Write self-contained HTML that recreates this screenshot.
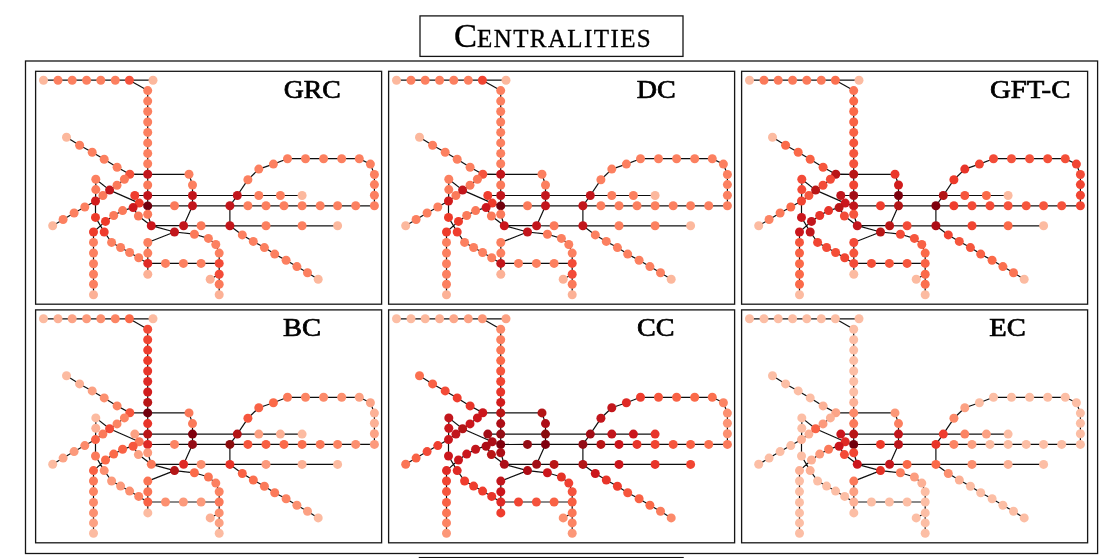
<!DOCTYPE html>
<html><head><meta charset="utf-8"><style>
html,body{margin:0;padding:0;background:#fff;}
body{width:1110px;height:558px;overflow:hidden;position:relative;}
svg{position:absolute;left:0;top:0;}
.lab{font-family:"Liberation Serif",serif;font-weight:normal;font-size:24.6px;fill:#000;stroke:#000;stroke-width:0.7px;filter:grayscale(1);}
.t1{font-family:"Liberation Serif",serif;font-size:34.5px;}
.t2{font-family:"Liberation Serif",serif;font-size:25px;}
</style></head><body>
<svg width="1110" height="558" viewBox="0 0 1110 558">
<defs><filter id="soft" x="-5%" y="-5%" width="110%" height="110%"><feGaussianBlur stdDeviation="0.3"/></filter></defs>
<rect x="420" y="15.9" width="263" height="40.5" fill="none" stroke="#151515" stroke-width="1.3"/>
<text x="454" y="46.9" fill="#000" stroke="#000" stroke-width="0.35" style="filter:grayscale(1)"><tspan class="t1">C</tspan><tspan class="t2" letter-spacing="1.4">ENTRALITIES</tspan></text>
<rect x="25.5" y="61" width="1072.1" height="492.5" fill="none" stroke="#151515" stroke-width="1.3"/>
<rect x="419.5" y="557.7" width="263.5" height="10" fill="none" stroke="#111" stroke-width="1.5"/>
<g transform="translate(0,0)" filter="url(#soft)">
<rect x="35.6" y="71.3" width="346" height="232.9" fill="none" stroke="#151515" stroke-width="1.3"/>
<path d="M43.5 80.2L58.0 80.2M58.0 80.2L72.2 80.2M72.2 80.2L86.6 80.2M86.6 80.2L100.8 80.2M100.8 80.2L115.3 80.2M115.3 80.2L129.4 80.2M129.4 80.2L153.0 80.2M129.4 80.2L147.7 90.6M147.7 90.6L147.7 101.1M147.7 101.1L147.7 111.5M147.7 111.5L147.7 122.0M147.7 122.0L147.7 132.4M147.7 132.4L147.7 142.9M147.7 142.9L147.7 153.4M147.7 153.4L147.7 163.8M147.7 163.8L147.7 174.3M147.7 174.3L147.7 185.0M147.7 185.0L147.7 195.5M147.7 195.5L147.7 205.9M147.7 205.9L147.7 214.2M147.7 214.2L151.3 225.7M151.3 225.7L174.5 232.0M174.5 232.0L147.8 242.5M147.8 242.5L147.8 253.1M147.8 253.1L147.8 263.4M147.8 263.4L147.8 274.3M66.5 137.2L79.6 145.3M79.6 145.3L92.2 152.3M92.2 152.3L104.2 159.3M104.2 159.3L117.1 167.3M117.1 167.3L129.8 174.2M129.8 174.2L147.7 174.3M147.7 174.3L189.0 174.3M189.0 174.3L192.5 185.0M192.5 185.0L192.5 195.5M192.5 195.5L192.5 205.8M192.5 205.8L183.6 225.7M134.8 195.5L147.7 195.5M147.7 195.5L192.5 195.5M192.5 195.5L237.3 195.5M237.3 195.5L258.8 195.5M258.8 195.5L280.4 195.5M280.4 195.5L302.1 195.5M139.2 203.1L147.7 205.9M147.7 205.9L174.5 205.8M174.5 205.8L192.5 205.8M192.5 205.8L229.9 205.8M229.9 205.8L247.9 205.8M247.9 205.8L266.0 205.8M266.0 205.8L284.0 205.8M284.0 205.8L302.1 205.8M302.1 205.8L320.2 205.8M320.2 205.8L337.6 205.8M337.6 205.8L355.7 205.8M355.7 205.8L374.4 205.8M237.3 195.5L247.9 179.7M247.9 179.7L258.8 169.1M258.8 169.1L273.4 164.1M273.4 164.1L287.5 158.7M287.5 158.7L305.5 158.7M305.5 158.7L323.6 158.7M323.6 158.7L341.7 158.7M341.7 158.7L359.3 158.7M359.3 158.7L370.4 164.1M370.4 164.1L374.4 174.5M374.4 174.5L374.4 184.6M374.4 184.6L374.4 195.2M374.4 195.2L374.4 205.8M237.3 195.5L229.9 205.8M229.9 205.8L229.9 225.8M151.3 225.7L183.6 225.7M183.6 225.7L201.1 225.8M201.1 225.8L229.9 225.8M229.9 225.8L266.0 225.8M266.0 225.8L302.1 225.8M302.1 225.8L337.6 225.8M229.9 225.8L242.3 234.9M242.3 234.9L253.3 241.4M253.3 241.4L264.4 247.6M264.4 247.6L274.7 254.1M274.7 254.1L286.1 260.2M286.1 260.2L296.9 266.6M296.9 266.6L307.5 272.7M307.5 272.7L318.2 279.3M174.5 232.0L194.4 234.2M194.4 234.2L208.4 238.4M208.4 238.4L215.8 244.5M215.8 244.5L219.2 253.1M219.2 253.1L219.2 263.4M219.2 263.4L219.2 274.3M219.2 274.3L219.2 284.3M219.2 284.3L219.2 294.7M219.2 274.3L210.2 279.3M147.8 263.4L165.5 263.4M165.5 263.4L183.4 263.4M183.4 263.4L201.1 263.4M201.1 263.4L219.2 263.4M52.7 225.7L63.1 219.5M63.1 219.5L74.1 213.0M74.1 213.0L84.8 207.0M84.8 207.0L95.5 201.0M95.5 201.0L102.9 195.5M102.9 195.5L109.6 190.1M109.6 190.1L117.0 185.3M117.0 185.3L124.4 179.3M124.4 179.3L129.8 174.2M95.8 179.3L95.8 189.6M95.8 189.6L95.5 201.0M95.5 201.0L95.5 217.4M95.5 217.4L104.2 232.0M95.8 179.3L109.6 190.1M109.6 190.1L139.2 203.1M93.5 232.0L105.5 221.4M105.5 221.4L113.7 215.5M113.7 215.5L122.6 210.6M122.6 210.6L133.1 207.6M133.1 207.6L139.2 203.1M104.2 232.0L111.6 242.4M111.6 242.4L120.6 247.5M120.6 247.5L129.6 252.5M129.6 252.5L138.7 257.8M138.7 257.8L147.8 263.4M93.5 232.0L93.5 242.4M93.5 242.4L93.5 253.0M93.5 253.0L93.5 263.8M93.5 263.8L93.5 274.3M93.5 274.3L93.5 284.3M93.5 284.3L93.5 294.7M133.1 207.6L138.4 216.0M138.4 216.0L151.3 225.7" stroke="#101010" stroke-width="1.2" fill="none"/>
<circle cx="43.5" cy="80.2" r="4.5" fill="#fcb89d"/>
<circle cx="58.0" cy="80.2" r="4.5" fill="#fc8060"/>
<circle cx="72.2" cy="80.2" r="4.5" fill="#fc8060"/>
<circle cx="86.6" cy="80.2" r="4.5" fill="#fc8060"/>
<circle cx="100.8" cy="80.2" r="4.5" fill="#fc8060"/>
<circle cx="115.3" cy="80.2" r="4.5" fill="#fc8060"/>
<circle cx="129.4" cy="80.2" r="4.5" fill="#f5533c"/>
<circle cx="153.0" cy="80.2" r="4.5" fill="#fcb89d"/>
<circle cx="147.7" cy="90.6" r="4.5" fill="#fc8060"/>
<circle cx="147.7" cy="101.1" r="4.5" fill="#fc8060"/>
<circle cx="147.7" cy="111.5" r="4.5" fill="#fc8060"/>
<circle cx="147.7" cy="122.0" r="4.5" fill="#fc8060"/>
<circle cx="147.7" cy="132.4" r="4.5" fill="#fc8060"/>
<circle cx="147.7" cy="142.9" r="4.5" fill="#fc8060"/>
<circle cx="147.7" cy="153.4" r="4.5" fill="#fc8060"/>
<circle cx="147.7" cy="163.8" r="4.5" fill="#fc8060"/>
<circle cx="147.7" cy="174.3" r="4.5" fill="#c2161b"/>
<circle cx="147.7" cy="185.0" r="4.5" fill="#fb7a5a"/>
<circle cx="147.7" cy="195.5" r="4.5" fill="#c2161b"/>
<circle cx="147.7" cy="205.9" r="4.5" fill="#71020e"/>
<circle cx="147.7" cy="214.2" r="4.5" fill="#fb7a5a"/>
<circle cx="151.3" cy="225.7" r="4.5" fill="#cb181d"/>
<circle cx="174.5" cy="232.0" r="4.5" fill="#c2161b"/>
<circle cx="147.8" cy="242.5" r="4.5" fill="#fc8060"/>
<circle cx="147.8" cy="253.1" r="4.5" fill="#fc8060"/>
<circle cx="147.8" cy="263.4" r="4.5" fill="#df2c25"/>
<circle cx="147.8" cy="274.3" r="4.5" fill="#fcb196"/>
<circle cx="66.5" cy="137.2" r="4.5" fill="#fcb89d"/>
<circle cx="79.6" cy="145.3" r="4.5" fill="#fc8060"/>
<circle cx="92.2" cy="152.3" r="4.5" fill="#fc8060"/>
<circle cx="104.2" cy="159.3" r="4.5" fill="#fc8060"/>
<circle cx="117.1" cy="167.3" r="4.5" fill="#fc8060"/>
<circle cx="129.8" cy="174.2" r="4.5" fill="#f5533c"/>
<circle cx="189.0" cy="174.3" r="4.5" fill="#fc8060"/>
<circle cx="192.5" cy="185.0" r="4.5" fill="#fc8060"/>
<circle cx="192.5" cy="195.5" r="4.5" fill="#c2161b"/>
<circle cx="192.5" cy="205.8" r="4.5" fill="#c2161b"/>
<circle cx="183.6" cy="225.7" r="4.5" fill="#c2161b"/>
<circle cx="134.8" cy="195.5" r="4.5" fill="#ef3d2d"/>
<circle cx="237.3" cy="195.5" r="4.5" fill="#c2161b"/>
<circle cx="258.8" cy="195.5" r="4.5" fill="#fc8060"/>
<circle cx="280.4" cy="195.5" r="4.5" fill="#fc8060"/>
<circle cx="302.1" cy="195.5" r="4.5" fill="#fcb89d"/>
<circle cx="139.2" cy="203.1" r="4.5" fill="#ee3a2b"/>
<circle cx="174.5" cy="205.8" r="4.5" fill="#fb7a5a"/>
<circle cx="229.9" cy="205.8" r="4.5" fill="#c2161b"/>
<circle cx="247.9" cy="205.8" r="4.5" fill="#fc8060"/>
<circle cx="266.0" cy="205.8" r="4.5" fill="#fc8060"/>
<circle cx="284.0" cy="205.8" r="4.5" fill="#fc8060"/>
<circle cx="302.1" cy="205.8" r="4.5" fill="#fc8060"/>
<circle cx="320.2" cy="205.8" r="4.5" fill="#fc8060"/>
<circle cx="337.6" cy="205.8" r="4.5" fill="#fc8060"/>
<circle cx="355.7" cy="205.8" r="4.5" fill="#fc8060"/>
<circle cx="374.4" cy="205.8" r="4.5" fill="#fc8060"/>
<circle cx="247.9" cy="179.7" r="4.5" fill="#fc8060"/>
<circle cx="258.8" cy="169.1" r="4.5" fill="#fc8060"/>
<circle cx="273.4" cy="164.1" r="4.5" fill="#fc8060"/>
<circle cx="287.5" cy="158.7" r="4.5" fill="#fc8060"/>
<circle cx="305.5" cy="158.7" r="4.5" fill="#fc8060"/>
<circle cx="323.6" cy="158.7" r="4.5" fill="#fc8060"/>
<circle cx="341.7" cy="158.7" r="4.5" fill="#fc8060"/>
<circle cx="359.3" cy="158.7" r="4.5" fill="#fc8060"/>
<circle cx="370.4" cy="164.1" r="4.5" fill="#fc8060"/>
<circle cx="374.4" cy="174.5" r="4.5" fill="#fc8060"/>
<circle cx="374.4" cy="184.6" r="4.5" fill="#fc8060"/>
<circle cx="374.4" cy="195.2" r="4.5" fill="#fc8060"/>
<circle cx="201.1" cy="225.8" r="4.5" fill="#fb7a5a"/>
<circle cx="229.9" cy="225.8" r="4.5" fill="#c2161b"/>
<circle cx="266.0" cy="225.8" r="4.5" fill="#fc8060"/>
<circle cx="302.1" cy="225.8" r="4.5" fill="#fc8060"/>
<circle cx="337.6" cy="225.8" r="4.5" fill="#fcb89d"/>
<circle cx="242.3" cy="234.9" r="4.5" fill="#fc8060"/>
<circle cx="253.3" cy="241.4" r="4.5" fill="#fc8060"/>
<circle cx="264.4" cy="247.6" r="4.5" fill="#fc8060"/>
<circle cx="274.7" cy="254.1" r="4.5" fill="#fc8060"/>
<circle cx="286.1" cy="260.2" r="4.5" fill="#fc8060"/>
<circle cx="296.9" cy="266.6" r="4.5" fill="#fc8060"/>
<circle cx="307.5" cy="272.7" r="4.5" fill="#fc8060"/>
<circle cx="318.2" cy="279.3" r="4.5" fill="#fcb89d"/>
<circle cx="194.4" cy="234.2" r="4.5" fill="#fb7a5a"/>
<circle cx="208.4" cy="238.4" r="4.5" fill="#fc8060"/>
<circle cx="215.8" cy="244.5" r="4.5" fill="#fc8060"/>
<circle cx="219.2" cy="253.1" r="4.5" fill="#fc8060"/>
<circle cx="219.2" cy="263.4" r="4.5" fill="#f34c37"/>
<circle cx="219.2" cy="274.3" r="4.5" fill="#f34c37"/>
<circle cx="219.2" cy="284.3" r="4.5" fill="#fb7a5a"/>
<circle cx="219.2" cy="294.7" r="4.5" fill="#fcb196"/>
<circle cx="210.2" cy="279.3" r="4.5" fill="#fcb196"/>
<circle cx="165.5" cy="263.4" r="4.5" fill="#fc8060"/>
<circle cx="183.4" cy="263.4" r="4.5" fill="#fc8060"/>
<circle cx="201.1" cy="263.4" r="4.5" fill="#fc8060"/>
<circle cx="52.7" cy="225.7" r="4.5" fill="#fcb89d"/>
<circle cx="63.1" cy="219.5" r="4.5" fill="#fc8060"/>
<circle cx="74.1" cy="213.0" r="4.5" fill="#fc8060"/>
<circle cx="84.8" cy="207.0" r="4.5" fill="#fc8060"/>
<circle cx="95.8" cy="179.3" r="4.5" fill="#fc8060"/>
<circle cx="95.8" cy="189.6" r="4.5" fill="#fb7a5a"/>
<circle cx="95.5" cy="201.0" r="4.5" fill="#d11e1f"/>
<circle cx="95.5" cy="217.4" r="4.5" fill="#ee3a2b"/>
<circle cx="102.9" cy="195.5" r="4.5" fill="#fb7a5a"/>
<circle cx="109.6" cy="190.1" r="4.5" fill="#c2161b"/>
<circle cx="117.0" cy="185.3" r="4.5" fill="#fb7a5a"/>
<circle cx="124.4" cy="179.3" r="4.5" fill="#fb7a5a"/>
<circle cx="105.5" cy="221.4" r="4.5" fill="#ee3a2b"/>
<circle cx="104.2" cy="232.0" r="4.5" fill="#ef3d2d"/>
<circle cx="93.5" cy="232.0" r="4.5" fill="#ee3a2b"/>
<circle cx="113.7" cy="215.5" r="4.5" fill="#fb7a5a"/>
<circle cx="122.6" cy="210.6" r="4.5" fill="#fb7a5a"/>
<circle cx="133.1" cy="207.6" r="4.5" fill="#cb181d"/>
<circle cx="111.6" cy="242.4" r="4.5" fill="#fc8060"/>
<circle cx="120.6" cy="247.5" r="4.5" fill="#fc8060"/>
<circle cx="129.6" cy="252.5" r="4.5" fill="#fc8060"/>
<circle cx="138.7" cy="257.8" r="4.5" fill="#fc8060"/>
<circle cx="93.5" cy="242.4" r="4.5" fill="#fc8060"/>
<circle cx="93.5" cy="253.0" r="4.5" fill="#fc8060"/>
<circle cx="93.5" cy="263.8" r="4.5" fill="#fc8060"/>
<circle cx="93.5" cy="274.3" r="4.5" fill="#fc8060"/>
<circle cx="93.5" cy="284.3" r="4.5" fill="#fc8060"/>
<circle cx="93.5" cy="294.7" r="4.5" fill="#fcb196"/>
<circle cx="138.4" cy="216.0" r="4.5" fill="#fb7a5a"/>
<text x="283.8" y="97.8" class="lab" textLength="57" lengthAdjust="spacingAndGlyphs">GRC</text>
</g><g transform="translate(353,0)" filter="url(#soft)">
<rect x="35.6" y="71.3" width="346" height="232.9" fill="none" stroke="#151515" stroke-width="1.3"/>
<path d="M43.5 80.2L58.0 80.2M58.0 80.2L72.2 80.2M72.2 80.2L86.6 80.2M86.6 80.2L100.8 80.2M100.8 80.2L115.3 80.2M115.3 80.2L129.4 80.2M129.4 80.2L153.0 80.2M129.4 80.2L147.7 90.6M147.7 90.6L147.7 101.1M147.7 101.1L147.7 111.5M147.7 111.5L147.7 122.0M147.7 122.0L147.7 132.4M147.7 132.4L147.7 142.9M147.7 142.9L147.7 153.4M147.7 153.4L147.7 163.8M147.7 163.8L147.7 174.3M147.7 174.3L147.7 185.0M147.7 185.0L147.7 195.5M147.7 195.5L147.7 205.9M147.7 205.9L147.7 214.2M147.7 214.2L151.3 225.7M151.3 225.7L174.5 232.0M174.5 232.0L147.8 242.5M147.8 242.5L147.8 253.1M147.8 253.1L147.8 263.4M147.8 263.4L147.8 274.3M66.5 137.2L79.6 145.3M79.6 145.3L92.2 152.3M92.2 152.3L104.2 159.3M104.2 159.3L117.1 167.3M117.1 167.3L129.8 174.2M129.8 174.2L147.7 174.3M147.7 174.3L189.0 174.3M189.0 174.3L192.5 185.0M192.5 185.0L192.5 195.5M192.5 195.5L192.5 205.8M192.5 205.8L183.6 225.7M134.8 195.5L147.7 195.5M147.7 195.5L192.5 195.5M192.5 195.5L237.3 195.5M237.3 195.5L258.8 195.5M258.8 195.5L280.4 195.5M280.4 195.5L302.1 195.5M139.2 203.1L147.7 205.9M147.7 205.9L174.5 205.8M174.5 205.8L192.5 205.8M192.5 205.8L229.9 205.8M229.9 205.8L247.9 205.8M247.9 205.8L266.0 205.8M266.0 205.8L284.0 205.8M284.0 205.8L302.1 205.8M302.1 205.8L320.2 205.8M320.2 205.8L337.6 205.8M337.6 205.8L355.7 205.8M355.7 205.8L374.4 205.8M237.3 195.5L247.9 179.7M247.9 179.7L258.8 169.1M258.8 169.1L273.4 164.1M273.4 164.1L287.5 158.7M287.5 158.7L305.5 158.7M305.5 158.7L323.6 158.7M323.6 158.7L341.7 158.7M341.7 158.7L359.3 158.7M359.3 158.7L370.4 164.1M370.4 164.1L374.4 174.5M374.4 174.5L374.4 184.6M374.4 184.6L374.4 195.2M374.4 195.2L374.4 205.8M237.3 195.5L229.9 205.8M229.9 205.8L229.9 225.8M151.3 225.7L183.6 225.7M183.6 225.7L201.1 225.8M201.1 225.8L229.9 225.8M229.9 225.8L266.0 225.8M266.0 225.8L302.1 225.8M302.1 225.8L337.6 225.8M229.9 225.8L242.3 234.9M242.3 234.9L253.3 241.4M253.3 241.4L264.4 247.6M264.4 247.6L274.7 254.1M274.7 254.1L286.1 260.2M286.1 260.2L296.9 266.6M296.9 266.6L307.5 272.7M307.5 272.7L318.2 279.3M174.5 232.0L194.4 234.2M194.4 234.2L208.4 238.4M208.4 238.4L215.8 244.5M215.8 244.5L219.2 253.1M219.2 253.1L219.2 263.4M219.2 263.4L219.2 274.3M219.2 274.3L219.2 284.3M219.2 284.3L219.2 294.7M219.2 274.3L210.2 279.3M147.8 263.4L165.5 263.4M165.5 263.4L183.4 263.4M183.4 263.4L201.1 263.4M201.1 263.4L219.2 263.4M52.7 225.7L63.1 219.5M63.1 219.5L74.1 213.0M74.1 213.0L84.8 207.0M84.8 207.0L95.5 201.0M95.5 201.0L102.9 195.5M102.9 195.5L109.6 190.1M109.6 190.1L117.0 185.3M117.0 185.3L124.4 179.3M124.4 179.3L129.8 174.2M95.8 179.3L95.8 189.6M95.8 189.6L95.5 201.0M95.5 201.0L95.5 217.4M95.5 217.4L104.2 232.0M95.8 179.3L109.6 190.1M109.6 190.1L139.2 203.1M93.5 232.0L105.5 221.4M105.5 221.4L113.7 215.5M113.7 215.5L122.6 210.6M122.6 210.6L133.1 207.6M133.1 207.6L139.2 203.1M104.2 232.0L111.6 242.4M111.6 242.4L120.6 247.5M120.6 247.5L129.6 252.5M129.6 252.5L138.7 257.8M138.7 257.8L147.8 263.4M93.5 232.0L93.5 242.4M93.5 242.4L93.5 253.0M93.5 253.0L93.5 263.8M93.5 263.8L93.5 274.3M93.5 274.3L93.5 284.3M93.5 284.3L93.5 294.7M133.1 207.6L138.4 216.0M138.4 216.0L151.3 225.7" stroke="#101010" stroke-width="1.2" fill="none"/>
<circle cx="43.5" cy="80.2" r="4.5" fill="#fcb89d"/>
<circle cx="58.0" cy="80.2" r="4.5" fill="#fc8060"/>
<circle cx="72.2" cy="80.2" r="4.5" fill="#fc8060"/>
<circle cx="86.6" cy="80.2" r="4.5" fill="#fc8060"/>
<circle cx="100.8" cy="80.2" r="4.5" fill="#fc8060"/>
<circle cx="115.3" cy="80.2" r="4.5" fill="#fc8060"/>
<circle cx="129.4" cy="80.2" r="4.5" fill="#f14432"/>
<circle cx="153.0" cy="80.2" r="4.5" fill="#fcb89d"/>
<circle cx="147.7" cy="90.6" r="4.5" fill="#fc8060"/>
<circle cx="147.7" cy="101.1" r="4.5" fill="#fc8060"/>
<circle cx="147.7" cy="111.5" r="4.5" fill="#fc8060"/>
<circle cx="147.7" cy="122.0" r="4.5" fill="#fc8060"/>
<circle cx="147.7" cy="132.4" r="4.5" fill="#fc8060"/>
<circle cx="147.7" cy="142.9" r="4.5" fill="#fc8060"/>
<circle cx="147.7" cy="153.4" r="4.5" fill="#fc8060"/>
<circle cx="147.7" cy="163.8" r="4.5" fill="#fc8060"/>
<circle cx="147.7" cy="174.3" r="4.5" fill="#c2161b"/>
<circle cx="147.7" cy="185.0" r="4.5" fill="#fb7a5a"/>
<circle cx="147.7" cy="195.5" r="4.5" fill="#c2161b"/>
<circle cx="147.7" cy="205.9" r="4.5" fill="#71020e"/>
<circle cx="147.7" cy="214.2" r="4.5" fill="#fb7a5a"/>
<circle cx="151.3" cy="225.7" r="4.5" fill="#cb181d"/>
<circle cx="174.5" cy="232.0" r="4.5" fill="#c2161b"/>
<circle cx="147.8" cy="242.5" r="4.5" fill="#fc8060"/>
<circle cx="147.8" cy="253.1" r="4.5" fill="#fc8060"/>
<circle cx="147.8" cy="263.4" r="4.5" fill="#c2161b"/>
<circle cx="147.8" cy="274.3" r="4.5" fill="#fcb196"/>
<circle cx="66.5" cy="137.2" r="4.5" fill="#fcb89d"/>
<circle cx="79.6" cy="145.3" r="4.5" fill="#fc8060"/>
<circle cx="92.2" cy="152.3" r="4.5" fill="#fc8060"/>
<circle cx="104.2" cy="159.3" r="4.5" fill="#fc8060"/>
<circle cx="117.1" cy="167.3" r="4.5" fill="#fc8060"/>
<circle cx="129.8" cy="174.2" r="4.5" fill="#f5533c"/>
<circle cx="189.0" cy="174.3" r="4.5" fill="#fc8060"/>
<circle cx="192.5" cy="185.0" r="4.5" fill="#fc8060"/>
<circle cx="192.5" cy="195.5" r="4.5" fill="#c2161b"/>
<circle cx="192.5" cy="205.8" r="4.5" fill="#c2161b"/>
<circle cx="183.6" cy="225.7" r="4.5" fill="#c2161b"/>
<circle cx="134.8" cy="195.5" r="4.5" fill="#ef3d2d"/>
<circle cx="237.3" cy="195.5" r="4.5" fill="#c2161b"/>
<circle cx="258.8" cy="195.5" r="4.5" fill="#fc8060"/>
<circle cx="280.4" cy="195.5" r="4.5" fill="#fc8060"/>
<circle cx="302.1" cy="195.5" r="4.5" fill="#fcb89d"/>
<circle cx="139.2" cy="203.1" r="4.5" fill="#ee3a2b"/>
<circle cx="174.5" cy="205.8" r="4.5" fill="#fb7a5a"/>
<circle cx="229.9" cy="205.8" r="4.5" fill="#c2161b"/>
<circle cx="247.9" cy="205.8" r="4.5" fill="#fc8060"/>
<circle cx="266.0" cy="205.8" r="4.5" fill="#fc8060"/>
<circle cx="284.0" cy="205.8" r="4.5" fill="#fc8060"/>
<circle cx="302.1" cy="205.8" r="4.5" fill="#fc8060"/>
<circle cx="320.2" cy="205.8" r="4.5" fill="#fc8060"/>
<circle cx="337.6" cy="205.8" r="4.5" fill="#fc8060"/>
<circle cx="355.7" cy="205.8" r="4.5" fill="#fc8060"/>
<circle cx="374.4" cy="205.8" r="4.5" fill="#fc8060"/>
<circle cx="247.9" cy="179.7" r="4.5" fill="#fc8060"/>
<circle cx="258.8" cy="169.1" r="4.5" fill="#fc8060"/>
<circle cx="273.4" cy="164.1" r="4.5" fill="#fc8060"/>
<circle cx="287.5" cy="158.7" r="4.5" fill="#fc8060"/>
<circle cx="305.5" cy="158.7" r="4.5" fill="#fc8060"/>
<circle cx="323.6" cy="158.7" r="4.5" fill="#fc8060"/>
<circle cx="341.7" cy="158.7" r="4.5" fill="#fc8060"/>
<circle cx="359.3" cy="158.7" r="4.5" fill="#fc8060"/>
<circle cx="370.4" cy="164.1" r="4.5" fill="#fc8060"/>
<circle cx="374.4" cy="174.5" r="4.5" fill="#fc8060"/>
<circle cx="374.4" cy="184.6" r="4.5" fill="#fc8060"/>
<circle cx="374.4" cy="195.2" r="4.5" fill="#fc8060"/>
<circle cx="201.1" cy="225.8" r="4.5" fill="#fb7a5a"/>
<circle cx="229.9" cy="225.8" r="4.5" fill="#c2161b"/>
<circle cx="266.0" cy="225.8" r="4.5" fill="#fc8060"/>
<circle cx="302.1" cy="225.8" r="4.5" fill="#fc8060"/>
<circle cx="337.6" cy="225.8" r="4.5" fill="#fcb89d"/>
<circle cx="242.3" cy="234.9" r="4.5" fill="#fc8060"/>
<circle cx="253.3" cy="241.4" r="4.5" fill="#fc8060"/>
<circle cx="264.4" cy="247.6" r="4.5" fill="#fc8060"/>
<circle cx="274.7" cy="254.1" r="4.5" fill="#fc8060"/>
<circle cx="286.1" cy="260.2" r="4.5" fill="#fc8060"/>
<circle cx="296.9" cy="266.6" r="4.5" fill="#fc8060"/>
<circle cx="307.5" cy="272.7" r="4.5" fill="#fc8060"/>
<circle cx="318.2" cy="279.3" r="4.5" fill="#fcb89d"/>
<circle cx="194.4" cy="234.2" r="4.5" fill="#fb7a5a"/>
<circle cx="208.4" cy="238.4" r="4.5" fill="#fc8060"/>
<circle cx="215.8" cy="244.5" r="4.5" fill="#fc8060"/>
<circle cx="219.2" cy="253.1" r="4.5" fill="#fc8060"/>
<circle cx="219.2" cy="263.4" r="4.5" fill="#f34c37"/>
<circle cx="219.2" cy="274.3" r="4.5" fill="#f34c37"/>
<circle cx="219.2" cy="284.3" r="4.5" fill="#fb7a5a"/>
<circle cx="219.2" cy="294.7" r="4.5" fill="#fcb196"/>
<circle cx="210.2" cy="279.3" r="4.5" fill="#fcb196"/>
<circle cx="165.5" cy="263.4" r="4.5" fill="#fc8060"/>
<circle cx="183.4" cy="263.4" r="4.5" fill="#fc8060"/>
<circle cx="201.1" cy="263.4" r="4.5" fill="#fc8060"/>
<circle cx="52.7" cy="225.7" r="4.5" fill="#fcb89d"/>
<circle cx="63.1" cy="219.5" r="4.5" fill="#fc8060"/>
<circle cx="74.1" cy="213.0" r="4.5" fill="#fc8060"/>
<circle cx="84.8" cy="207.0" r="4.5" fill="#fc8060"/>
<circle cx="95.8" cy="179.3" r="4.5" fill="#fc8060"/>
<circle cx="95.8" cy="189.6" r="4.5" fill="#fb7a5a"/>
<circle cx="95.5" cy="201.0" r="4.5" fill="#d11e1f"/>
<circle cx="95.5" cy="217.4" r="4.5" fill="#ee3a2b"/>
<circle cx="102.9" cy="195.5" r="4.5" fill="#fb7a5a"/>
<circle cx="109.6" cy="190.1" r="4.5" fill="#c2161b"/>
<circle cx="117.0" cy="185.3" r="4.5" fill="#fb7a5a"/>
<circle cx="124.4" cy="179.3" r="4.5" fill="#fb7a5a"/>
<circle cx="105.5" cy="221.4" r="4.5" fill="#ee3a2b"/>
<circle cx="104.2" cy="232.0" r="4.5" fill="#ef3d2d"/>
<circle cx="93.5" cy="232.0" r="4.5" fill="#ee3a2b"/>
<circle cx="113.7" cy="215.5" r="4.5" fill="#fb7a5a"/>
<circle cx="122.6" cy="210.6" r="4.5" fill="#fb7a5a"/>
<circle cx="133.1" cy="207.6" r="4.5" fill="#cb181d"/>
<circle cx="111.6" cy="242.4" r="4.5" fill="#fc8060"/>
<circle cx="120.6" cy="247.5" r="4.5" fill="#fc8060"/>
<circle cx="129.6" cy="252.5" r="4.5" fill="#fc8060"/>
<circle cx="138.7" cy="257.8" r="4.5" fill="#fc8060"/>
<circle cx="93.5" cy="242.4" r="4.5" fill="#fc8060"/>
<circle cx="93.5" cy="253.0" r="4.5" fill="#fc8060"/>
<circle cx="93.5" cy="263.8" r="4.5" fill="#fc8060"/>
<circle cx="93.5" cy="274.3" r="4.5" fill="#fc8060"/>
<circle cx="93.5" cy="284.3" r="4.5" fill="#fc8060"/>
<circle cx="93.5" cy="294.7" r="4.5" fill="#fcb196"/>
<circle cx="138.4" cy="216.0" r="4.5" fill="#fb7a5a"/>
<text x="283.8" y="97.8" class="lab" textLength="39" lengthAdjust="spacingAndGlyphs">DC</text>
</g><g transform="translate(706,0)" filter="url(#soft)">
<rect x="35.6" y="71.3" width="346" height="232.9" fill="none" stroke="#151515" stroke-width="1.3"/>
<path d="M43.5 80.2L58.0 80.2M58.0 80.2L72.2 80.2M72.2 80.2L86.6 80.2M86.6 80.2L100.8 80.2M100.8 80.2L115.3 80.2M115.3 80.2L129.4 80.2M129.4 80.2L153.0 80.2M129.4 80.2L147.7 90.6M147.7 90.6L147.7 101.1M147.7 101.1L147.7 111.5M147.7 111.5L147.7 122.0M147.7 122.0L147.7 132.4M147.7 132.4L147.7 142.9M147.7 142.9L147.7 153.4M147.7 153.4L147.7 163.8M147.7 163.8L147.7 174.3M147.7 174.3L147.7 185.0M147.7 185.0L147.7 195.5M147.7 195.5L147.7 205.9M147.7 205.9L147.7 214.2M147.7 214.2L151.3 225.7M151.3 225.7L174.5 232.0M174.5 232.0L147.8 242.5M147.8 242.5L147.8 253.1M147.8 253.1L147.8 263.4M147.8 263.4L147.8 274.3M66.5 137.2L79.6 145.3M79.6 145.3L92.2 152.3M92.2 152.3L104.2 159.3M104.2 159.3L117.1 167.3M117.1 167.3L129.8 174.2M129.8 174.2L147.7 174.3M147.7 174.3L189.0 174.3M189.0 174.3L192.5 185.0M192.5 185.0L192.5 195.5M192.5 195.5L192.5 205.8M192.5 205.8L183.6 225.7M134.8 195.5L147.7 195.5M147.7 195.5L192.5 195.5M192.5 195.5L237.3 195.5M237.3 195.5L258.8 195.5M258.8 195.5L280.4 195.5M280.4 195.5L302.1 195.5M139.2 203.1L147.7 205.9M147.7 205.9L174.5 205.8M174.5 205.8L192.5 205.8M192.5 205.8L229.9 205.8M229.9 205.8L247.9 205.8M247.9 205.8L266.0 205.8M266.0 205.8L284.0 205.8M284.0 205.8L302.1 205.8M302.1 205.8L320.2 205.8M320.2 205.8L337.6 205.8M337.6 205.8L355.7 205.8M355.7 205.8L374.4 205.8M237.3 195.5L247.9 179.7M247.9 179.7L258.8 169.1M258.8 169.1L273.4 164.1M273.4 164.1L287.5 158.7M287.5 158.7L305.5 158.7M305.5 158.7L323.6 158.7M323.6 158.7L341.7 158.7M341.7 158.7L359.3 158.7M359.3 158.7L370.4 164.1M370.4 164.1L374.4 174.5M374.4 174.5L374.4 184.6M374.4 184.6L374.4 195.2M374.4 195.2L374.4 205.8M237.3 195.5L229.9 205.8M229.9 205.8L229.9 225.8M151.3 225.7L183.6 225.7M183.6 225.7L201.1 225.8M201.1 225.8L229.9 225.8M229.9 225.8L266.0 225.8M266.0 225.8L302.1 225.8M302.1 225.8L337.6 225.8M229.9 225.8L242.3 234.9M242.3 234.9L253.3 241.4M253.3 241.4L264.4 247.6M264.4 247.6L274.7 254.1M274.7 254.1L286.1 260.2M286.1 260.2L296.9 266.6M296.9 266.6L307.5 272.7M307.5 272.7L318.2 279.3M174.5 232.0L194.4 234.2M194.4 234.2L208.4 238.4M208.4 238.4L215.8 244.5M215.8 244.5L219.2 253.1M219.2 253.1L219.2 263.4M219.2 263.4L219.2 274.3M219.2 274.3L219.2 284.3M219.2 284.3L219.2 294.7M219.2 274.3L210.2 279.3M147.8 263.4L165.5 263.4M165.5 263.4L183.4 263.4M183.4 263.4L201.1 263.4M201.1 263.4L219.2 263.4M52.7 225.7L63.1 219.5M63.1 219.5L74.1 213.0M74.1 213.0L84.8 207.0M84.8 207.0L95.5 201.0M95.5 201.0L102.9 195.5M102.9 195.5L109.6 190.1M109.6 190.1L117.0 185.3M117.0 185.3L124.4 179.3M124.4 179.3L129.8 174.2M95.8 179.3L95.8 189.6M95.8 189.6L95.5 201.0M95.5 201.0L95.5 217.4M95.5 217.4L104.2 232.0M95.8 179.3L109.6 190.1M109.6 190.1L139.2 203.1M93.5 232.0L105.5 221.4M105.5 221.4L113.7 215.5M113.7 215.5L122.6 210.6M122.6 210.6L133.1 207.6M133.1 207.6L139.2 203.1M104.2 232.0L111.6 242.4M111.6 242.4L120.6 247.5M120.6 247.5L129.6 252.5M129.6 252.5L138.7 257.8M138.7 257.8L147.8 263.4M93.5 232.0L93.5 242.4M93.5 242.4L93.5 253.0M93.5 253.0L93.5 263.8M93.5 263.8L93.5 274.3M93.5 274.3L93.5 284.3M93.5 284.3L93.5 294.7M133.1 207.6L138.4 216.0M138.4 216.0L151.3 225.7" stroke="#101010" stroke-width="1.2" fill="none"/>
<circle cx="43.5" cy="80.2" r="4.5" fill="#fcbba1"/>
<circle cx="58.0" cy="80.2" r="4.5" fill="#fb7a5a"/>
<circle cx="72.2" cy="80.2" r="4.5" fill="#fb7a5a"/>
<circle cx="86.6" cy="80.2" r="4.5" fill="#fb7a5a"/>
<circle cx="100.8" cy="80.2" r="4.5" fill="#fb7a5a"/>
<circle cx="115.3" cy="80.2" r="4.5" fill="#fb7a5a"/>
<circle cx="129.4" cy="80.2" r="4.5" fill="#fb7050"/>
<circle cx="153.0" cy="80.2" r="4.5" fill="#fcbba1"/>
<circle cx="147.7" cy="90.6" r="4.5" fill="#fb7454"/>
<circle cx="147.7" cy="101.1" r="4.5" fill="#fb6a4a"/>
<circle cx="147.7" cy="111.5" r="4.5" fill="#fb6a4a"/>
<circle cx="147.7" cy="122.0" r="4.5" fill="#f96245"/>
<circle cx="147.7" cy="132.4" r="4.5" fill="#f96245"/>
<circle cx="147.7" cy="142.9" r="4.5" fill="#f6573e"/>
<circle cx="147.7" cy="153.4" r="4.5" fill="#f6573e"/>
<circle cx="147.7" cy="163.8" r="4.5" fill="#f5533c"/>
<circle cx="147.7" cy="174.3" r="4.5" fill="#b91419"/>
<circle cx="147.7" cy="185.0" r="4.5" fill="#f14432"/>
<circle cx="147.7" cy="195.5" r="4.5" fill="#a30e15"/>
<circle cx="147.7" cy="205.9" r="4.5" fill="#c2161b"/>
<circle cx="147.7" cy="214.2" r="4.5" fill="#f6573e"/>
<circle cx="151.3" cy="225.7" r="4.5" fill="#c2161b"/>
<circle cx="174.5" cy="232.0" r="4.5" fill="#b91419"/>
<circle cx="147.8" cy="242.5" r="4.5" fill="#f34c37"/>
<circle cx="147.8" cy="253.1" r="4.5" fill="#f6573e"/>
<circle cx="147.8" cy="263.4" r="4.5" fill="#f34c37"/>
<circle cx="147.8" cy="274.3" r="4.5" fill="#fcbba1"/>
<circle cx="66.5" cy="137.2" r="4.5" fill="#fcbba1"/>
<circle cx="79.6" cy="145.3" r="4.5" fill="#fb6a4a"/>
<circle cx="92.2" cy="152.3" r="4.5" fill="#fb6a4a"/>
<circle cx="104.2" cy="159.3" r="4.5" fill="#f96245"/>
<circle cx="117.1" cy="167.3" r="4.5" fill="#f6573e"/>
<circle cx="129.8" cy="174.2" r="4.5" fill="#b91419"/>
<circle cx="189.0" cy="174.3" r="4.5" fill="#eb372a"/>
<circle cx="192.5" cy="185.0" r="4.5" fill="#d11e1f"/>
<circle cx="192.5" cy="195.5" r="4.5" fill="#7b0510"/>
<circle cx="192.5" cy="205.8" r="4.5" fill="#b31218"/>
<circle cx="183.6" cy="225.7" r="4.5" fill="#b91419"/>
<circle cx="134.8" cy="195.5" r="4.5" fill="#c2161b"/>
<circle cx="237.3" cy="195.5" r="4.5" fill="#b31218"/>
<circle cx="258.8" cy="195.5" r="4.5" fill="#f6573e"/>
<circle cx="280.4" cy="195.5" r="4.5" fill="#fb6a4a"/>
<circle cx="302.1" cy="195.5" r="4.5" fill="#fcbba1"/>
<circle cx="139.2" cy="203.1" r="4.5" fill="#cb181d"/>
<circle cx="174.5" cy="205.8" r="4.5" fill="#ef3d2d"/>
<circle cx="229.9" cy="205.8" r="4.5" fill="#800610"/>
<circle cx="247.9" cy="205.8" r="4.5" fill="#ef3d2d"/>
<circle cx="266.0" cy="205.8" r="4.5" fill="#f34c37"/>
<circle cx="284.0" cy="205.8" r="4.5" fill="#f34c37"/>
<circle cx="302.1" cy="205.8" r="4.5" fill="#f5533c"/>
<circle cx="320.2" cy="205.8" r="4.5" fill="#f6573e"/>
<circle cx="337.6" cy="205.8" r="4.5" fill="#f6573e"/>
<circle cx="355.7" cy="205.8" r="4.5" fill="#f5533c"/>
<circle cx="374.4" cy="205.8" r="4.5" fill="#f14432"/>
<circle cx="247.9" cy="179.7" r="4.5" fill="#ee3a2b"/>
<circle cx="258.8" cy="169.1" r="4.5" fill="#e83429"/>
<circle cx="273.4" cy="164.1" r="4.5" fill="#f14432"/>
<circle cx="287.5" cy="158.7" r="4.5" fill="#f34c37"/>
<circle cx="305.5" cy="158.7" r="4.5" fill="#f5533c"/>
<circle cx="323.6" cy="158.7" r="4.5" fill="#f5533c"/>
<circle cx="341.7" cy="158.7" r="4.5" fill="#f45039"/>
<circle cx="359.3" cy="158.7" r="4.5" fill="#f45039"/>
<circle cx="370.4" cy="164.1" r="4.5" fill="#f14432"/>
<circle cx="374.4" cy="174.5" r="4.5" fill="#f34c37"/>
<circle cx="374.4" cy="184.6" r="4.5" fill="#f14432"/>
<circle cx="374.4" cy="195.2" r="4.5" fill="#f14432"/>
<circle cx="201.1" cy="225.8" r="4.5" fill="#f34c37"/>
<circle cx="229.9" cy="225.8" r="4.5" fill="#ad1117"/>
<circle cx="266.0" cy="225.8" r="4.5" fill="#f14432"/>
<circle cx="302.1" cy="225.8" r="4.5" fill="#fb6a4a"/>
<circle cx="337.6" cy="225.8" r="4.5" fill="#fcbba1"/>
<circle cx="242.3" cy="234.9" r="4.5" fill="#f14432"/>
<circle cx="253.3" cy="241.4" r="4.5" fill="#f6573e"/>
<circle cx="264.4" cy="247.6" r="4.5" fill="#f6573e"/>
<circle cx="274.7" cy="254.1" r="4.5" fill="#f96245"/>
<circle cx="286.1" cy="260.2" r="4.5" fill="#fb6a4a"/>
<circle cx="296.9" cy="266.6" r="4.5" fill="#fb7050"/>
<circle cx="307.5" cy="272.7" r="4.5" fill="#fb7454"/>
<circle cx="318.2" cy="279.3" r="4.5" fill="#fcbba1"/>
<circle cx="194.4" cy="234.2" r="4.5" fill="#f34c37"/>
<circle cx="208.4" cy="238.4" r="4.5" fill="#f6573e"/>
<circle cx="215.8" cy="244.5" r="4.5" fill="#f96245"/>
<circle cx="219.2" cy="253.1" r="4.5" fill="#fb6a4a"/>
<circle cx="219.2" cy="263.4" r="4.5" fill="#f96245"/>
<circle cx="219.2" cy="274.3" r="4.5" fill="#fb6a4a"/>
<circle cx="219.2" cy="284.3" r="4.5" fill="#fb7050"/>
<circle cx="219.2" cy="294.7" r="4.5" fill="#fcbba1"/>
<circle cx="210.2" cy="279.3" r="4.5" fill="#fcbba1"/>
<circle cx="165.5" cy="263.4" r="4.5" fill="#f45039"/>
<circle cx="183.4" cy="263.4" r="4.5" fill="#f6573e"/>
<circle cx="201.1" cy="263.4" r="4.5" fill="#f6573e"/>
<circle cx="52.7" cy="225.7" r="4.5" fill="#fcbba1"/>
<circle cx="63.1" cy="219.5" r="4.5" fill="#fc8464"/>
<circle cx="74.1" cy="213.0" r="4.5" fill="#fb7a5a"/>
<circle cx="84.8" cy="207.0" r="4.5" fill="#fb6a4a"/>
<circle cx="95.8" cy="179.3" r="4.5" fill="#f34c37"/>
<circle cx="95.8" cy="189.6" r="4.5" fill="#f34c37"/>
<circle cx="95.5" cy="201.0" r="4.5" fill="#f14432"/>
<circle cx="95.5" cy="217.4" r="4.5" fill="#cb181d"/>
<circle cx="102.9" cy="195.5" r="4.5" fill="#f6573e"/>
<circle cx="109.6" cy="190.1" r="4.5" fill="#b91419"/>
<circle cx="117.0" cy="185.3" r="4.5" fill="#f34c37"/>
<circle cx="124.4" cy="179.3" r="4.5" fill="#f34c37"/>
<circle cx="105.5" cy="221.4" r="4.5" fill="#c2161b"/>
<circle cx="104.2" cy="232.0" r="4.5" fill="#c2161b"/>
<circle cx="93.5" cy="232.0" r="4.5" fill="#cb181d"/>
<circle cx="113.7" cy="215.5" r="4.5" fill="#e83429"/>
<circle cx="122.6" cy="210.6" r="4.5" fill="#e83429"/>
<circle cx="133.1" cy="207.6" r="4.5" fill="#b91419"/>
<circle cx="111.6" cy="242.4" r="4.5" fill="#f14432"/>
<circle cx="120.6" cy="247.5" r="4.5" fill="#f34c37"/>
<circle cx="129.6" cy="252.5" r="4.5" fill="#f45039"/>
<circle cx="138.7" cy="257.8" r="4.5" fill="#f14432"/>
<circle cx="93.5" cy="242.4" r="4.5" fill="#f6573e"/>
<circle cx="93.5" cy="253.0" r="4.5" fill="#f96245"/>
<circle cx="93.5" cy="263.8" r="4.5" fill="#fb6a4a"/>
<circle cx="93.5" cy="274.3" r="4.5" fill="#fb6a4a"/>
<circle cx="93.5" cy="284.3" r="4.5" fill="#fb6a4a"/>
<circle cx="93.5" cy="294.7" r="4.5" fill="#fcbba1"/>
<circle cx="138.4" cy="216.0" r="4.5" fill="#f34c37"/>
<text x="283.90000000000003" y="97.8" class="lab" textLength="80.5" lengthAdjust="spacingAndGlyphs">GFT-C</text>
</g><g transform="translate(0,238.6)" filter="url(#soft)">
<rect x="35.6" y="71.3" width="346" height="232.9" fill="none" stroke="#151515" stroke-width="1.3"/>
<path d="M43.5 80.2L58.0 80.2M58.0 80.2L72.2 80.2M72.2 80.2L86.6 80.2M86.6 80.2L100.8 80.2M100.8 80.2L115.3 80.2M115.3 80.2L129.4 80.2M129.4 80.2L153.0 80.2M129.4 80.2L147.7 90.6M147.7 90.6L147.7 101.1M147.7 101.1L147.7 111.5M147.7 111.5L147.7 122.0M147.7 122.0L147.7 132.4M147.7 132.4L147.7 142.9M147.7 142.9L147.7 153.4M147.7 153.4L147.7 163.8M147.7 163.8L147.7 174.3M147.7 174.3L147.7 185.0M147.7 185.0L147.7 195.5M147.7 195.5L147.7 205.9M147.7 205.9L147.7 214.2M147.7 214.2L151.3 225.7M151.3 225.7L174.5 232.0M174.5 232.0L147.8 242.5M147.8 242.5L147.8 253.1M147.8 253.1L147.8 263.4M147.8 263.4L147.8 274.3M66.5 137.2L79.6 145.3M79.6 145.3L92.2 152.3M92.2 152.3L104.2 159.3M104.2 159.3L117.1 167.3M117.1 167.3L129.8 174.2M129.8 174.2L147.7 174.3M147.7 174.3L189.0 174.3M189.0 174.3L192.5 185.0M192.5 185.0L192.5 195.5M192.5 195.5L192.5 205.8M192.5 205.8L183.6 225.7M134.8 195.5L147.7 195.5M147.7 195.5L192.5 195.5M192.5 195.5L237.3 195.5M237.3 195.5L258.8 195.5M258.8 195.5L280.4 195.5M280.4 195.5L302.1 195.5M139.2 203.1L147.7 205.9M147.7 205.9L174.5 205.8M174.5 205.8L192.5 205.8M192.5 205.8L229.9 205.8M229.9 205.8L247.9 205.8M247.9 205.8L266.0 205.8M266.0 205.8L284.0 205.8M284.0 205.8L302.1 205.8M302.1 205.8L320.2 205.8M320.2 205.8L337.6 205.8M337.6 205.8L355.7 205.8M355.7 205.8L374.4 205.8M237.3 195.5L247.9 179.7M247.9 179.7L258.8 169.1M258.8 169.1L273.4 164.1M273.4 164.1L287.5 158.7M287.5 158.7L305.5 158.7M305.5 158.7L323.6 158.7M323.6 158.7L341.7 158.7M341.7 158.7L359.3 158.7M359.3 158.7L370.4 164.1M370.4 164.1L374.4 174.5M374.4 174.5L374.4 184.6M374.4 184.6L374.4 195.2M374.4 195.2L374.4 205.8M237.3 195.5L229.9 205.8M229.9 205.8L229.9 225.8M151.3 225.7L183.6 225.7M183.6 225.7L201.1 225.8M201.1 225.8L229.9 225.8M229.9 225.8L266.0 225.8M266.0 225.8L302.1 225.8M302.1 225.8L337.6 225.8M229.9 225.8L242.3 234.9M242.3 234.9L253.3 241.4M253.3 241.4L264.4 247.6M264.4 247.6L274.7 254.1M274.7 254.1L286.1 260.2M286.1 260.2L296.9 266.6M296.9 266.6L307.5 272.7M307.5 272.7L318.2 279.3M174.5 232.0L194.4 234.2M194.4 234.2L208.4 238.4M208.4 238.4L215.8 244.5M215.8 244.5L219.2 253.1M219.2 253.1L219.2 263.4M219.2 263.4L219.2 274.3M219.2 274.3L219.2 284.3M219.2 284.3L219.2 294.7M219.2 274.3L210.2 279.3M147.8 263.4L165.5 263.4M165.5 263.4L183.4 263.4M183.4 263.4L201.1 263.4M201.1 263.4L219.2 263.4M52.7 225.7L63.1 219.5M63.1 219.5L74.1 213.0M74.1 213.0L84.8 207.0M84.8 207.0L95.5 201.0M95.5 201.0L102.9 195.5M102.9 195.5L109.6 190.1M109.6 190.1L117.0 185.3M117.0 185.3L124.4 179.3M124.4 179.3L129.8 174.2M95.8 179.3L95.8 189.6M95.8 189.6L95.5 201.0M95.5 201.0L95.5 217.4M95.5 217.4L104.2 232.0M95.8 179.3L109.6 190.1M109.6 190.1L139.2 203.1M93.5 232.0L105.5 221.4M105.5 221.4L113.7 215.5M113.7 215.5L122.6 210.6M122.6 210.6L133.1 207.6M133.1 207.6L139.2 203.1M104.2 232.0L111.6 242.4M111.6 242.4L120.6 247.5M120.6 247.5L129.6 252.5M129.6 252.5L138.7 257.8M138.7 257.8L147.8 263.4M93.5 232.0L93.5 242.4M93.5 242.4L93.5 253.0M93.5 253.0L93.5 263.8M93.5 263.8L93.5 274.3M93.5 274.3L93.5 284.3M93.5 284.3L93.5 294.7M133.1 207.6L138.4 216.0M138.4 216.0L151.3 225.7" stroke="#101010" stroke-width="1.2" fill="none"/>
<circle cx="43.5" cy="80.2" r="4.5" fill="#fcbba1"/>
<circle cx="58.0" cy="80.2" r="4.5" fill="#fcb196"/>
<circle cx="72.2" cy="80.2" r="4.5" fill="#fca487"/>
<circle cx="86.6" cy="80.2" r="4.5" fill="#fc9a7b"/>
<circle cx="100.8" cy="80.2" r="4.5" fill="#fc9070"/>
<circle cx="115.3" cy="80.2" r="4.5" fill="#fc8464"/>
<circle cx="129.4" cy="80.2" r="4.5" fill="#fb6a4a"/>
<circle cx="153.0" cy="80.2" r="4.5" fill="#fcbba1"/>
<circle cx="147.7" cy="90.6" r="4.5" fill="#f34c37"/>
<circle cx="147.7" cy="101.1" r="4.5" fill="#f14432"/>
<circle cx="147.7" cy="111.5" r="4.5" fill="#ef3d2d"/>
<circle cx="147.7" cy="122.0" r="4.5" fill="#ee3a2b"/>
<circle cx="147.7" cy="132.4" r="4.5" fill="#e83429"/>
<circle cx="147.7" cy="142.9" r="4.5" fill="#df2c25"/>
<circle cx="147.7" cy="153.4" r="4.5" fill="#d11e1f"/>
<circle cx="147.7" cy="163.8" r="4.5" fill="#b91419"/>
<circle cx="147.7" cy="174.3" r="4.5" fill="#71020e"/>
<circle cx="147.7" cy="185.0" r="4.5" fill="#e83429"/>
<circle cx="147.7" cy="195.5" r="4.5" fill="#b91419"/>
<circle cx="147.7" cy="205.9" r="4.5" fill="#df2c25"/>
<circle cx="147.7" cy="214.2" r="4.5" fill="#fc9a7b"/>
<circle cx="151.3" cy="225.7" r="4.5" fill="#fb7a5a"/>
<circle cx="174.5" cy="232.0" r="4.5" fill="#b31218"/>
<circle cx="147.8" cy="242.5" r="4.5" fill="#fb7454"/>
<circle cx="147.8" cy="253.1" r="4.5" fill="#fb7454"/>
<circle cx="147.8" cy="263.4" r="4.5" fill="#f96245"/>
<circle cx="147.8" cy="274.3" r="4.5" fill="#fcbba1"/>
<circle cx="66.5" cy="137.2" r="4.5" fill="#fcbba1"/>
<circle cx="79.6" cy="145.3" r="4.5" fill="#fcb196"/>
<circle cx="92.2" cy="152.3" r="4.5" fill="#fca183"/>
<circle cx="104.2" cy="159.3" r="4.5" fill="#fc9070"/>
<circle cx="117.1" cy="167.3" r="4.5" fill="#fc8464"/>
<circle cx="129.8" cy="174.2" r="4.5" fill="#f6573e"/>
<circle cx="189.0" cy="174.3" r="4.5" fill="#fb7a5a"/>
<circle cx="192.5" cy="185.0" r="4.5" fill="#fb7a5a"/>
<circle cx="192.5" cy="195.5" r="4.5" fill="#800610"/>
<circle cx="192.5" cy="205.8" r="4.5" fill="#940b13"/>
<circle cx="183.6" cy="225.7" r="4.5" fill="#df2c25"/>
<circle cx="134.8" cy="195.5" r="4.5" fill="#fca183"/>
<circle cx="237.3" cy="195.5" r="4.5" fill="#b31218"/>
<circle cx="258.8" cy="195.5" r="4.5" fill="#fca183"/>
<circle cx="280.4" cy="195.5" r="4.5" fill="#fcb196"/>
<circle cx="302.1" cy="195.5" r="4.5" fill="#fcbba1"/>
<circle cx="139.2" cy="203.1" r="4.5" fill="#fb7a5a"/>
<circle cx="174.5" cy="205.8" r="4.5" fill="#fc8464"/>
<circle cx="229.9" cy="205.8" r="4.5" fill="#8a0811"/>
<circle cx="247.9" cy="205.8" r="4.5" fill="#f6573e"/>
<circle cx="266.0" cy="205.8" r="4.5" fill="#f85f43"/>
<circle cx="284.0" cy="205.8" r="4.5" fill="#fb6a4a"/>
<circle cx="302.1" cy="205.8" r="4.5" fill="#fb7050"/>
<circle cx="320.2" cy="205.8" r="4.5" fill="#fb7a5a"/>
<circle cx="337.6" cy="205.8" r="4.5" fill="#fc8464"/>
<circle cx="355.7" cy="205.8" r="4.5" fill="#fc9070"/>
<circle cx="374.4" cy="205.8" r="4.5" fill="#fc9a7b"/>
<circle cx="247.9" cy="179.7" r="4.5" fill="#f6573e"/>
<circle cx="258.8" cy="169.1" r="4.5" fill="#f96245"/>
<circle cx="273.4" cy="164.1" r="4.5" fill="#fb6a4a"/>
<circle cx="287.5" cy="158.7" r="4.5" fill="#fb7a5a"/>
<circle cx="305.5" cy="158.7" r="4.5" fill="#fc8464"/>
<circle cx="323.6" cy="158.7" r="4.5" fill="#fc8a6a"/>
<circle cx="341.7" cy="158.7" r="4.5" fill="#fc9070"/>
<circle cx="359.3" cy="158.7" r="4.5" fill="#fca183"/>
<circle cx="370.4" cy="164.1" r="4.5" fill="#fca487"/>
<circle cx="374.4" cy="174.5" r="4.5" fill="#fcb196"/>
<circle cx="374.4" cy="184.6" r="4.5" fill="#fcb196"/>
<circle cx="374.4" cy="195.2" r="4.5" fill="#fca487"/>
<circle cx="201.1" cy="225.8" r="4.5" fill="#fc9070"/>
<circle cx="229.9" cy="225.8" r="4.5" fill="#e83429"/>
<circle cx="266.0" cy="225.8" r="4.5" fill="#fc9a7b"/>
<circle cx="302.1" cy="225.8" r="4.5" fill="#fcb196"/>
<circle cx="337.6" cy="225.8" r="4.5" fill="#fcbba1"/>
<circle cx="242.3" cy="234.9" r="4.5" fill="#f96245"/>
<circle cx="253.3" cy="241.4" r="4.5" fill="#fb7050"/>
<circle cx="264.4" cy="247.6" r="4.5" fill="#fb7a5a"/>
<circle cx="274.7" cy="254.1" r="4.5" fill="#fb7a5a"/>
<circle cx="286.1" cy="260.2" r="4.5" fill="#fc8464"/>
<circle cx="296.9" cy="266.6" r="4.5" fill="#fc9070"/>
<circle cx="307.5" cy="272.7" r="4.5" fill="#fca183"/>
<circle cx="318.2" cy="279.3" r="4.5" fill="#fcbba1"/>
<circle cx="194.4" cy="234.2" r="4.5" fill="#fb6a4a"/>
<circle cx="208.4" cy="238.4" r="4.5" fill="#fb7454"/>
<circle cx="215.8" cy="244.5" r="4.5" fill="#fc8060"/>
<circle cx="219.2" cy="253.1" r="4.5" fill="#fc8464"/>
<circle cx="219.2" cy="263.4" r="4.5" fill="#fb7a5a"/>
<circle cx="219.2" cy="274.3" r="4.5" fill="#fc9070"/>
<circle cx="219.2" cy="284.3" r="4.5" fill="#fca183"/>
<circle cx="219.2" cy="294.7" r="4.5" fill="#fcbba1"/>
<circle cx="210.2" cy="279.3" r="4.5" fill="#fcb196"/>
<circle cx="165.5" cy="263.4" r="4.5" fill="#fc9070"/>
<circle cx="183.4" cy="263.4" r="4.5" fill="#fc9a7b"/>
<circle cx="201.1" cy="263.4" r="4.5" fill="#fc9a7b"/>
<circle cx="52.7" cy="225.7" r="4.5" fill="#fcbba1"/>
<circle cx="63.1" cy="219.5" r="4.5" fill="#fca487"/>
<circle cx="74.1" cy="213.0" r="4.5" fill="#fc9a7b"/>
<circle cx="84.8" cy="207.0" r="4.5" fill="#fc8a6a"/>
<circle cx="95.8" cy="179.3" r="4.5" fill="#fcbba1"/>
<circle cx="95.8" cy="189.6" r="4.5" fill="#fcb196"/>
<circle cx="95.5" cy="201.0" r="4.5" fill="#f96245"/>
<circle cx="95.5" cy="217.4" r="4.5" fill="#fb7a5a"/>
<circle cx="102.9" cy="195.5" r="4.5" fill="#fb7a5a"/>
<circle cx="109.6" cy="190.1" r="4.5" fill="#f34c37"/>
<circle cx="117.0" cy="185.3" r="4.5" fill="#fc8464"/>
<circle cx="124.4" cy="179.3" r="4.5" fill="#fc8464"/>
<circle cx="105.5" cy="221.4" r="4.5" fill="#fb6a4a"/>
<circle cx="104.2" cy="232.0" r="4.5" fill="#fc9070"/>
<circle cx="93.5" cy="232.0" r="4.5" fill="#f96245"/>
<circle cx="113.7" cy="215.5" r="4.5" fill="#fb6a4a"/>
<circle cx="122.6" cy="210.6" r="4.5" fill="#f96245"/>
<circle cx="133.1" cy="207.6" r="4.5" fill="#f6573e"/>
<circle cx="111.6" cy="242.4" r="4.5" fill="#fc9a7b"/>
<circle cx="120.6" cy="247.5" r="4.5" fill="#fc9a7b"/>
<circle cx="129.6" cy="252.5" r="4.5" fill="#fc9070"/>
<circle cx="138.7" cy="257.8" r="4.5" fill="#fc8464"/>
<circle cx="93.5" cy="242.4" r="4.5" fill="#fb7a5a"/>
<circle cx="93.5" cy="253.0" r="4.5" fill="#fc8464"/>
<circle cx="93.5" cy="263.8" r="4.5" fill="#fc8a6a"/>
<circle cx="93.5" cy="274.3" r="4.5" fill="#fc9070"/>
<circle cx="93.5" cy="284.3" r="4.5" fill="#fca183"/>
<circle cx="93.5" cy="294.7" r="4.5" fill="#fcbba1"/>
<circle cx="138.4" cy="216.0" r="4.5" fill="#fca183"/>
<text x="283.1" y="97.6" class="lab" textLength="38" lengthAdjust="spacingAndGlyphs">BC</text>
</g><g transform="translate(353,238.6)" filter="url(#soft)">
<rect x="35.6" y="71.3" width="346" height="232.9" fill="none" stroke="#151515" stroke-width="1.3"/>
<path d="M43.5 80.2L58.0 80.2M58.0 80.2L72.2 80.2M72.2 80.2L86.6 80.2M86.6 80.2L100.8 80.2M100.8 80.2L115.3 80.2M115.3 80.2L129.4 80.2M129.4 80.2L153.0 80.2M129.4 80.2L147.7 90.6M147.7 90.6L147.7 101.1M147.7 101.1L147.7 111.5M147.7 111.5L147.7 122.0M147.7 122.0L147.7 132.4M147.7 132.4L147.7 142.9M147.7 142.9L147.7 153.4M147.7 153.4L147.7 163.8M147.7 163.8L147.7 174.3M147.7 174.3L147.7 185.0M147.7 185.0L147.7 195.5M147.7 195.5L147.7 205.9M147.7 205.9L147.7 214.2M147.7 214.2L151.3 225.7M151.3 225.7L174.5 232.0M174.5 232.0L147.8 242.5M147.8 242.5L147.8 253.1M147.8 253.1L147.8 263.4M147.8 263.4L147.8 274.3M66.5 137.2L79.6 145.3M79.6 145.3L92.2 152.3M92.2 152.3L104.2 159.3M104.2 159.3L117.1 167.3M117.1 167.3L129.8 174.2M129.8 174.2L147.7 174.3M147.7 174.3L189.0 174.3M189.0 174.3L192.5 185.0M192.5 185.0L192.5 195.5M192.5 195.5L192.5 205.8M192.5 205.8L183.6 225.7M134.8 195.5L147.7 195.5M147.7 195.5L192.5 195.5M192.5 195.5L237.3 195.5M237.3 195.5L258.8 195.5M258.8 195.5L280.4 195.5M280.4 195.5L302.1 195.5M139.2 203.1L147.7 205.9M147.7 205.9L174.5 205.8M174.5 205.8L192.5 205.8M192.5 205.8L229.9 205.8M229.9 205.8L247.9 205.8M247.9 205.8L266.0 205.8M266.0 205.8L284.0 205.8M284.0 205.8L302.1 205.8M302.1 205.8L320.2 205.8M320.2 205.8L337.6 205.8M337.6 205.8L355.7 205.8M355.7 205.8L374.4 205.8M237.3 195.5L247.9 179.7M247.9 179.7L258.8 169.1M258.8 169.1L273.4 164.1M273.4 164.1L287.5 158.7M287.5 158.7L305.5 158.7M305.5 158.7L323.6 158.7M323.6 158.7L341.7 158.7M341.7 158.7L359.3 158.7M359.3 158.7L370.4 164.1M370.4 164.1L374.4 174.5M374.4 174.5L374.4 184.6M374.4 184.6L374.4 195.2M374.4 195.2L374.4 205.8M237.3 195.5L229.9 205.8M229.9 205.8L229.9 225.8M151.3 225.7L183.6 225.7M183.6 225.7L201.1 225.8M201.1 225.8L229.9 225.8M229.9 225.8L266.0 225.8M266.0 225.8L302.1 225.8M302.1 225.8L337.6 225.8M229.9 225.8L242.3 234.9M242.3 234.9L253.3 241.4M253.3 241.4L264.4 247.6M264.4 247.6L274.7 254.1M274.7 254.1L286.1 260.2M286.1 260.2L296.9 266.6M296.9 266.6L307.5 272.7M307.5 272.7L318.2 279.3M174.5 232.0L194.4 234.2M194.4 234.2L208.4 238.4M208.4 238.4L215.8 244.5M215.8 244.5L219.2 253.1M219.2 253.1L219.2 263.4M219.2 263.4L219.2 274.3M219.2 274.3L219.2 284.3M219.2 284.3L219.2 294.7M219.2 274.3L210.2 279.3M147.8 263.4L165.5 263.4M165.5 263.4L183.4 263.4M183.4 263.4L201.1 263.4M201.1 263.4L219.2 263.4M52.7 225.7L63.1 219.5M63.1 219.5L74.1 213.0M74.1 213.0L84.8 207.0M84.8 207.0L95.5 201.0M95.5 201.0L102.9 195.5M102.9 195.5L109.6 190.1M109.6 190.1L117.0 185.3M117.0 185.3L124.4 179.3M124.4 179.3L129.8 174.2M95.8 179.3L95.8 189.6M95.8 189.6L95.5 201.0M95.5 201.0L95.5 217.4M95.5 217.4L104.2 232.0M95.8 179.3L109.6 190.1M109.6 190.1L139.2 203.1M93.5 232.0L105.5 221.4M105.5 221.4L113.7 215.5M113.7 215.5L122.6 210.6M122.6 210.6L133.1 207.6M133.1 207.6L139.2 203.1M104.2 232.0L111.6 242.4M111.6 242.4L120.6 247.5M120.6 247.5L129.6 252.5M129.6 252.5L138.7 257.8M138.7 257.8L147.8 263.4M93.5 232.0L93.5 242.4M93.5 242.4L93.5 253.0M93.5 253.0L93.5 263.8M93.5 263.8L93.5 274.3M93.5 274.3L93.5 284.3M93.5 284.3L93.5 294.7M133.1 207.6L138.4 216.0M138.4 216.0L151.3 225.7" stroke="#101010" stroke-width="1.2" fill="none"/>
<circle cx="43.5" cy="80.2" r="4.5" fill="#fcbea5"/>
<circle cx="58.0" cy="80.2" r="4.5" fill="#fcbba1"/>
<circle cx="72.2" cy="80.2" r="4.5" fill="#fcb89d"/>
<circle cx="86.6" cy="80.2" r="4.5" fill="#fcb196"/>
<circle cx="100.8" cy="80.2" r="4.5" fill="#fca78a"/>
<circle cx="115.3" cy="80.2" r="4.5" fill="#fca183"/>
<circle cx="129.4" cy="80.2" r="4.5" fill="#fc9778"/>
<circle cx="153.0" cy="80.2" r="4.5" fill="#fca183"/>
<circle cx="147.7" cy="90.6" r="4.5" fill="#fc8a6a"/>
<circle cx="147.7" cy="101.1" r="4.5" fill="#fc8060"/>
<circle cx="147.7" cy="111.5" r="4.5" fill="#fb7757"/>
<circle cx="147.7" cy="122.0" r="4.5" fill="#fb6a4a"/>
<circle cx="147.7" cy="132.4" r="4.5" fill="#f6573e"/>
<circle cx="147.7" cy="142.9" r="4.5" fill="#f14432"/>
<circle cx="147.7" cy="153.4" r="4.5" fill="#e83429"/>
<circle cx="147.7" cy="163.8" r="4.5" fill="#d11e1f"/>
<circle cx="147.7" cy="174.3" r="4.5" fill="#b91419"/>
<circle cx="147.7" cy="185.0" r="4.5" fill="#ad1117"/>
<circle cx="147.7" cy="195.5" r="4.5" fill="#940b13"/>
<circle cx="147.7" cy="205.9" r="4.5" fill="#800610"/>
<circle cx="147.7" cy="214.2" r="4.5" fill="#ad1117"/>
<circle cx="151.3" cy="225.7" r="4.5" fill="#ad1117"/>
<circle cx="174.5" cy="232.0" r="4.5" fill="#ad1117"/>
<circle cx="147.8" cy="242.5" r="4.5" fill="#c2161b"/>
<circle cx="147.8" cy="253.1" r="4.5" fill="#cb181d"/>
<circle cx="147.8" cy="263.4" r="4.5" fill="#df2c25"/>
<circle cx="147.8" cy="274.3" r="4.5" fill="#ef3d2d"/>
<circle cx="66.5" cy="137.2" r="4.5" fill="#fb7050"/>
<circle cx="79.6" cy="145.3" r="4.5" fill="#f96245"/>
<circle cx="92.2" cy="152.3" r="4.5" fill="#f34c37"/>
<circle cx="104.2" cy="159.3" r="4.5" fill="#ef3d2d"/>
<circle cx="117.1" cy="167.3" r="4.5" fill="#e83429"/>
<circle cx="129.8" cy="174.2" r="4.5" fill="#cb181d"/>
<circle cx="189.0" cy="174.3" r="4.5" fill="#b31218"/>
<circle cx="192.5" cy="185.0" r="4.5" fill="#ad1117"/>
<circle cx="192.5" cy="195.5" r="4.5" fill="#8a0811"/>
<circle cx="192.5" cy="205.8" r="4.5" fill="#800610"/>
<circle cx="183.6" cy="225.7" r="4.5" fill="#a30e15"/>
<circle cx="134.8" cy="195.5" r="4.5" fill="#a30e15"/>
<circle cx="237.3" cy="195.5" r="4.5" fill="#a30e15"/>
<circle cx="258.8" cy="195.5" r="4.5" fill="#c2161b"/>
<circle cx="280.4" cy="195.5" r="4.5" fill="#cb181d"/>
<circle cx="302.1" cy="195.5" r="4.5" fill="#e83429"/>
<circle cx="139.2" cy="203.1" r="4.5" fill="#ad1117"/>
<circle cx="174.5" cy="205.8" r="4.5" fill="#940b13"/>
<circle cx="229.9" cy="205.8" r="4.5" fill="#940b13"/>
<circle cx="247.9" cy="205.8" r="4.5" fill="#b91419"/>
<circle cx="266.0" cy="205.8" r="4.5" fill="#cb181d"/>
<circle cx="284.0" cy="205.8" r="4.5" fill="#e83429"/>
<circle cx="302.1" cy="205.8" r="4.5" fill="#f14432"/>
<circle cx="320.2" cy="205.8" r="4.5" fill="#f6573e"/>
<circle cx="337.6" cy="205.8" r="4.5" fill="#f96245"/>
<circle cx="355.7" cy="205.8" r="4.5" fill="#fb7050"/>
<circle cx="374.4" cy="205.8" r="4.5" fill="#fb7a5a"/>
<circle cx="247.9" cy="179.7" r="4.5" fill="#c2161b"/>
<circle cx="258.8" cy="169.1" r="4.5" fill="#c2161b"/>
<circle cx="273.4" cy="164.1" r="4.5" fill="#df2c25"/>
<circle cx="287.5" cy="158.7" r="4.5" fill="#ef3d2d"/>
<circle cx="305.5" cy="158.7" r="4.5" fill="#f6573e"/>
<circle cx="323.6" cy="158.7" r="4.5" fill="#f96245"/>
<circle cx="341.7" cy="158.7" r="4.5" fill="#fb6a4a"/>
<circle cx="359.3" cy="158.7" r="4.5" fill="#fb7050"/>
<circle cx="370.4" cy="164.1" r="4.5" fill="#fc8464"/>
<circle cx="374.4" cy="174.5" r="4.5" fill="#fc9070"/>
<circle cx="374.4" cy="184.6" r="4.5" fill="#fc9474"/>
<circle cx="374.4" cy="195.2" r="4.5" fill="#fc9070"/>
<circle cx="201.1" cy="225.8" r="4.5" fill="#b91419"/>
<circle cx="229.9" cy="225.8" r="4.5" fill="#b31218"/>
<circle cx="266.0" cy="225.8" r="4.5" fill="#cb181d"/>
<circle cx="302.1" cy="225.8" r="4.5" fill="#e83429"/>
<circle cx="337.6" cy="225.8" r="4.5" fill="#f14432"/>
<circle cx="242.3" cy="234.9" r="4.5" fill="#cb181d"/>
<circle cx="253.3" cy="241.4" r="4.5" fill="#e83429"/>
<circle cx="264.4" cy="247.6" r="4.5" fill="#ef3d2d"/>
<circle cx="274.7" cy="254.1" r="4.5" fill="#f6573e"/>
<circle cx="286.1" cy="260.2" r="4.5" fill="#f96245"/>
<circle cx="296.9" cy="266.6" r="4.5" fill="#fb6a4a"/>
<circle cx="307.5" cy="272.7" r="4.5" fill="#fb7d5d"/>
<circle cx="318.2" cy="279.3" r="4.5" fill="#fc8a6a"/>
<circle cx="194.4" cy="234.2" r="4.5" fill="#cb181d"/>
<circle cx="208.4" cy="238.4" r="4.5" fill="#e53128"/>
<circle cx="215.8" cy="244.5" r="4.5" fill="#f04130"/>
<circle cx="219.2" cy="253.1" r="4.5" fill="#f5533c"/>
<circle cx="219.2" cy="263.4" r="4.5" fill="#f85f43"/>
<circle cx="219.2" cy="274.3" r="4.5" fill="#fb7757"/>
<circle cx="219.2" cy="284.3" r="4.5" fill="#fc8464"/>
<circle cx="219.2" cy="294.7" r="4.5" fill="#fc9778"/>
<circle cx="210.2" cy="279.3" r="4.5" fill="#fc9070"/>
<circle cx="165.5" cy="263.4" r="4.5" fill="#f14432"/>
<circle cx="183.4" cy="263.4" r="4.5" fill="#f5533c"/>
<circle cx="201.1" cy="263.4" r="4.5" fill="#f96245"/>
<circle cx="52.7" cy="225.7" r="4.5" fill="#fb7454"/>
<circle cx="63.1" cy="219.5" r="4.5" fill="#f96245"/>
<circle cx="74.1" cy="213.0" r="4.5" fill="#f34c37"/>
<circle cx="84.8" cy="207.0" r="4.5" fill="#ef3d2d"/>
<circle cx="95.8" cy="179.3" r="4.5" fill="#c2161b"/>
<circle cx="95.8" cy="189.6" r="4.5" fill="#cb181d"/>
<circle cx="95.5" cy="201.0" r="4.5" fill="#cb181d"/>
<circle cx="95.5" cy="217.4" r="4.5" fill="#cb181d"/>
<circle cx="102.9" cy="195.5" r="4.5" fill="#c2161b"/>
<circle cx="109.6" cy="190.1" r="4.5" fill="#b31218"/>
<circle cx="117.0" cy="185.3" r="4.5" fill="#cb181d"/>
<circle cx="124.4" cy="179.3" r="4.5" fill="#cb181d"/>
<circle cx="105.5" cy="221.4" r="4.5" fill="#cb181d"/>
<circle cx="104.2" cy="232.0" r="4.5" fill="#df2c25"/>
<circle cx="93.5" cy="232.0" r="4.5" fill="#df2c25"/>
<circle cx="113.7" cy="215.5" r="4.5" fill="#cb181d"/>
<circle cx="122.6" cy="210.6" r="4.5" fill="#c2161b"/>
<circle cx="133.1" cy="207.6" r="4.5" fill="#ad1117"/>
<circle cx="111.6" cy="242.4" r="4.5" fill="#ef3d2d"/>
<circle cx="120.6" cy="247.5" r="4.5" fill="#ef3d2d"/>
<circle cx="129.6" cy="252.5" r="4.5" fill="#ef3d2d"/>
<circle cx="138.7" cy="257.8" r="4.5" fill="#e83429"/>
<circle cx="93.5" cy="242.4" r="4.5" fill="#f14432"/>
<circle cx="93.5" cy="253.0" r="4.5" fill="#f6573e"/>
<circle cx="93.5" cy="263.8" r="4.5" fill="#f96245"/>
<circle cx="93.5" cy="274.3" r="4.5" fill="#fb7757"/>
<circle cx="93.5" cy="284.3" r="4.5" fill="#fc8464"/>
<circle cx="93.5" cy="294.7" r="4.5" fill="#fc9778"/>
<circle cx="138.4" cy="216.0" r="4.5" fill="#b91419"/>
<text x="284.1" y="97.6" class="lab" textLength="37.5" lengthAdjust="spacingAndGlyphs">CC</text>
</g><g transform="translate(706,238.6)" filter="url(#soft)">
<rect x="35.6" y="71.3" width="346" height="232.9" fill="none" stroke="#151515" stroke-width="1.3"/>
<path d="M43.5 80.2L58.0 80.2M58.0 80.2L72.2 80.2M72.2 80.2L86.6 80.2M86.6 80.2L100.8 80.2M100.8 80.2L115.3 80.2M115.3 80.2L129.4 80.2M129.4 80.2L153.0 80.2M129.4 80.2L147.7 90.6M147.7 90.6L147.7 101.1M147.7 101.1L147.7 111.5M147.7 111.5L147.7 122.0M147.7 122.0L147.7 132.4M147.7 132.4L147.7 142.9M147.7 142.9L147.7 153.4M147.7 153.4L147.7 163.8M147.7 163.8L147.7 174.3M147.7 174.3L147.7 185.0M147.7 185.0L147.7 195.5M147.7 195.5L147.7 205.9M147.7 205.9L147.7 214.2M147.7 214.2L151.3 225.7M151.3 225.7L174.5 232.0M174.5 232.0L147.8 242.5M147.8 242.5L147.8 253.1M147.8 253.1L147.8 263.4M147.8 263.4L147.8 274.3M66.5 137.2L79.6 145.3M79.6 145.3L92.2 152.3M92.2 152.3L104.2 159.3M104.2 159.3L117.1 167.3M117.1 167.3L129.8 174.2M129.8 174.2L147.7 174.3M147.7 174.3L189.0 174.3M189.0 174.3L192.5 185.0M192.5 185.0L192.5 195.5M192.5 195.5L192.5 205.8M192.5 205.8L183.6 225.7M134.8 195.5L147.7 195.5M147.7 195.5L192.5 195.5M192.5 195.5L237.3 195.5M237.3 195.5L258.8 195.5M258.8 195.5L280.4 195.5M280.4 195.5L302.1 195.5M139.2 203.1L147.7 205.9M147.7 205.9L174.5 205.8M174.5 205.8L192.5 205.8M192.5 205.8L229.9 205.8M229.9 205.8L247.9 205.8M247.9 205.8L266.0 205.8M266.0 205.8L284.0 205.8M284.0 205.8L302.1 205.8M302.1 205.8L320.2 205.8M320.2 205.8L337.6 205.8M337.6 205.8L355.7 205.8M355.7 205.8L374.4 205.8M237.3 195.5L247.9 179.7M247.9 179.7L258.8 169.1M258.8 169.1L273.4 164.1M273.4 164.1L287.5 158.7M287.5 158.7L305.5 158.7M305.5 158.7L323.6 158.7M323.6 158.7L341.7 158.7M341.7 158.7L359.3 158.7M359.3 158.7L370.4 164.1M370.4 164.1L374.4 174.5M374.4 174.5L374.4 184.6M374.4 184.6L374.4 195.2M374.4 195.2L374.4 205.8M237.3 195.5L229.9 205.8M229.9 205.8L229.9 225.8M151.3 225.7L183.6 225.7M183.6 225.7L201.1 225.8M201.1 225.8L229.9 225.8M229.9 225.8L266.0 225.8M266.0 225.8L302.1 225.8M302.1 225.8L337.6 225.8M229.9 225.8L242.3 234.9M242.3 234.9L253.3 241.4M253.3 241.4L264.4 247.6M264.4 247.6L274.7 254.1M274.7 254.1L286.1 260.2M286.1 260.2L296.9 266.6M296.9 266.6L307.5 272.7M307.5 272.7L318.2 279.3M174.5 232.0L194.4 234.2M194.4 234.2L208.4 238.4M208.4 238.4L215.8 244.5M215.8 244.5L219.2 253.1M219.2 253.1L219.2 263.4M219.2 263.4L219.2 274.3M219.2 274.3L219.2 284.3M219.2 284.3L219.2 294.7M219.2 274.3L210.2 279.3M147.8 263.4L165.5 263.4M165.5 263.4L183.4 263.4M183.4 263.4L201.1 263.4M201.1 263.4L219.2 263.4M52.7 225.7L63.1 219.5M63.1 219.5L74.1 213.0M74.1 213.0L84.8 207.0M84.8 207.0L95.5 201.0M95.5 201.0L102.9 195.5M102.9 195.5L109.6 190.1M109.6 190.1L117.0 185.3M117.0 185.3L124.4 179.3M124.4 179.3L129.8 174.2M95.8 179.3L95.8 189.6M95.8 189.6L95.5 201.0M95.5 201.0L95.5 217.4M95.5 217.4L104.2 232.0M95.8 179.3L109.6 190.1M109.6 190.1L139.2 203.1M93.5 232.0L105.5 221.4M105.5 221.4L113.7 215.5M113.7 215.5L122.6 210.6M122.6 210.6L133.1 207.6M133.1 207.6L139.2 203.1M104.2 232.0L111.6 242.4M111.6 242.4L120.6 247.5M120.6 247.5L129.6 252.5M129.6 252.5L138.7 257.8M138.7 257.8L147.8 263.4M93.5 232.0L93.5 242.4M93.5 242.4L93.5 253.0M93.5 253.0L93.5 263.8M93.5 263.8L93.5 274.3M93.5 274.3L93.5 284.3M93.5 284.3L93.5 294.7M133.1 207.6L138.4 216.0M138.4 216.0L151.3 225.7" stroke="#101010" stroke-width="1.2" fill="none"/>
<circle cx="43.5" cy="80.2" r="4.5" fill="#fcbea5"/>
<circle cx="58.0" cy="80.2" r="4.5" fill="#fcbea5"/>
<circle cx="72.2" cy="80.2" r="4.5" fill="#fcbea5"/>
<circle cx="86.6" cy="80.2" r="4.5" fill="#fcbea5"/>
<circle cx="100.8" cy="80.2" r="4.5" fill="#fcbea5"/>
<circle cx="115.3" cy="80.2" r="4.5" fill="#fcbea5"/>
<circle cx="129.4" cy="80.2" r="4.5" fill="#fcbea5"/>
<circle cx="153.0" cy="80.2" r="4.5" fill="#fcbea5"/>
<circle cx="147.7" cy="90.6" r="4.5" fill="#fcbea5"/>
<circle cx="147.7" cy="101.1" r="4.5" fill="#fcbea5"/>
<circle cx="147.7" cy="111.5" r="4.5" fill="#fcbea5"/>
<circle cx="147.7" cy="122.0" r="4.5" fill="#fcbea5"/>
<circle cx="147.7" cy="132.4" r="4.5" fill="#fcbea5"/>
<circle cx="147.7" cy="142.9" r="4.5" fill="#fcbea5"/>
<circle cx="147.7" cy="153.4" r="4.5" fill="#fcbea5"/>
<circle cx="147.7" cy="163.8" r="4.5" fill="#fcb196"/>
<circle cx="147.7" cy="174.3" r="4.5" fill="#fc8a6a"/>
<circle cx="147.7" cy="185.0" r="4.5" fill="#fb7a5a"/>
<circle cx="147.7" cy="195.5" r="4.5" fill="#b91419"/>
<circle cx="147.7" cy="205.9" r="4.5" fill="#71020e"/>
<circle cx="147.7" cy="214.2" r="4.5" fill="#f14432"/>
<circle cx="151.3" cy="225.7" r="4.5" fill="#cb181d"/>
<circle cx="174.5" cy="232.0" r="4.5" fill="#e53128"/>
<circle cx="147.8" cy="242.5" r="4.5" fill="#fb7a5a"/>
<circle cx="147.8" cy="253.1" r="4.5" fill="#fca183"/>
<circle cx="147.8" cy="263.4" r="4.5" fill="#fcb196"/>
<circle cx="147.8" cy="274.3" r="4.5" fill="#fcbea5"/>
<circle cx="66.5" cy="137.2" r="4.5" fill="#fcbea5"/>
<circle cx="79.6" cy="145.3" r="4.5" fill="#fcbea5"/>
<circle cx="92.2" cy="152.3" r="4.5" fill="#fcbea5"/>
<circle cx="104.2" cy="159.3" r="4.5" fill="#fcbea5"/>
<circle cx="117.1" cy="167.3" r="4.5" fill="#fcb196"/>
<circle cx="129.8" cy="174.2" r="4.5" fill="#fca487"/>
<circle cx="189.0" cy="174.3" r="4.5" fill="#fc9778"/>
<circle cx="192.5" cy="185.0" r="4.5" fill="#fc8060"/>
<circle cx="192.5" cy="195.5" r="4.5" fill="#c2161b"/>
<circle cx="192.5" cy="205.8" r="4.5" fill="#bc141a"/>
<circle cx="183.6" cy="225.7" r="4.5" fill="#c5171c"/>
<circle cx="134.8" cy="195.5" r="4.5" fill="#cb181d"/>
<circle cx="237.3" cy="195.5" r="4.5" fill="#ef3d2d"/>
<circle cx="258.8" cy="195.5" r="4.5" fill="#fc8464"/>
<circle cx="280.4" cy="195.5" r="4.5" fill="#fca183"/>
<circle cx="302.1" cy="195.5" r="4.5" fill="#fcbea5"/>
<circle cx="139.2" cy="203.1" r="4.5" fill="#df2c25"/>
<circle cx="174.5" cy="205.8" r="4.5" fill="#ee3a2b"/>
<circle cx="229.9" cy="205.8" r="4.5" fill="#e83429"/>
<circle cx="247.9" cy="205.8" r="4.5" fill="#fc8464"/>
<circle cx="266.0" cy="205.8" r="4.5" fill="#fca183"/>
<circle cx="284.0" cy="205.8" r="4.5" fill="#fcbea5"/>
<circle cx="302.1" cy="205.8" r="4.5" fill="#fcbea5"/>
<circle cx="320.2" cy="205.8" r="4.5" fill="#fcbea5"/>
<circle cx="337.6" cy="205.8" r="4.5" fill="#fcbea5"/>
<circle cx="355.7" cy="205.8" r="4.5" fill="#fcbea5"/>
<circle cx="374.4" cy="205.8" r="4.5" fill="#fcbea5"/>
<circle cx="247.9" cy="179.7" r="4.5" fill="#fc8a6a"/>
<circle cx="258.8" cy="169.1" r="4.5" fill="#fca183"/>
<circle cx="273.4" cy="164.1" r="4.5" fill="#fcbea5"/>
<circle cx="287.5" cy="158.7" r="4.5" fill="#fcbea5"/>
<circle cx="305.5" cy="158.7" r="4.5" fill="#fcbea5"/>
<circle cx="323.6" cy="158.7" r="4.5" fill="#fcbea5"/>
<circle cx="341.7" cy="158.7" r="4.5" fill="#fcbea5"/>
<circle cx="359.3" cy="158.7" r="4.5" fill="#fcbea5"/>
<circle cx="370.4" cy="164.1" r="4.5" fill="#fcbea5"/>
<circle cx="374.4" cy="174.5" r="4.5" fill="#fcbea5"/>
<circle cx="374.4" cy="184.6" r="4.5" fill="#fcbea5"/>
<circle cx="374.4" cy="195.2" r="4.5" fill="#fcbea5"/>
<circle cx="201.1" cy="225.8" r="4.5" fill="#fb6a4a"/>
<circle cx="229.9" cy="225.8" r="4.5" fill="#fb6a4a"/>
<circle cx="266.0" cy="225.8" r="4.5" fill="#fc9070"/>
<circle cx="302.1" cy="225.8" r="4.5" fill="#fcb196"/>
<circle cx="337.6" cy="225.8" r="4.5" fill="#fcbea5"/>
<circle cx="242.3" cy="234.9" r="4.5" fill="#fc9070"/>
<circle cx="253.3" cy="241.4" r="4.5" fill="#fcb196"/>
<circle cx="264.4" cy="247.6" r="4.5" fill="#fcbea5"/>
<circle cx="274.7" cy="254.1" r="4.5" fill="#fcbea5"/>
<circle cx="286.1" cy="260.2" r="4.5" fill="#fcbea5"/>
<circle cx="296.9" cy="266.6" r="4.5" fill="#fcbea5"/>
<circle cx="307.5" cy="272.7" r="4.5" fill="#fcbea5"/>
<circle cx="318.2" cy="279.3" r="4.5" fill="#fcbea5"/>
<circle cx="194.4" cy="234.2" r="4.5" fill="#fc8060"/>
<circle cx="208.4" cy="238.4" r="4.5" fill="#fc9d7f"/>
<circle cx="215.8" cy="244.5" r="4.5" fill="#fcb196"/>
<circle cx="219.2" cy="253.1" r="4.5" fill="#fcbea5"/>
<circle cx="219.2" cy="263.4" r="4.5" fill="#fcbea5"/>
<circle cx="219.2" cy="274.3" r="4.5" fill="#fcbea5"/>
<circle cx="219.2" cy="284.3" r="4.5" fill="#fcbea5"/>
<circle cx="219.2" cy="294.7" r="4.5" fill="#fcbea5"/>
<circle cx="210.2" cy="279.3" r="4.5" fill="#fcbea5"/>
<circle cx="165.5" cy="263.4" r="4.5" fill="#fcbea5"/>
<circle cx="183.4" cy="263.4" r="4.5" fill="#fcbea5"/>
<circle cx="201.1" cy="263.4" r="4.5" fill="#fcbea5"/>
<circle cx="52.7" cy="225.7" r="4.5" fill="#fcbea5"/>
<circle cx="63.1" cy="219.5" r="4.5" fill="#fcbea5"/>
<circle cx="74.1" cy="213.0" r="4.5" fill="#fcbea5"/>
<circle cx="84.8" cy="207.0" r="4.5" fill="#fcbea5"/>
<circle cx="95.8" cy="179.3" r="4.5" fill="#fcbea5"/>
<circle cx="95.8" cy="189.6" r="4.5" fill="#fcbea5"/>
<circle cx="95.5" cy="201.0" r="4.5" fill="#fcb196"/>
<circle cx="95.5" cy="217.4" r="4.5" fill="#fcbea5"/>
<circle cx="102.9" cy="195.5" r="4.5" fill="#fcb196"/>
<circle cx="109.6" cy="190.1" r="4.5" fill="#f96245"/>
<circle cx="117.0" cy="185.3" r="4.5" fill="#fc9a7b"/>
<circle cx="124.4" cy="179.3" r="4.5" fill="#fcb196"/>
<circle cx="105.5" cy="221.4" r="4.5" fill="#fcb196"/>
<circle cx="104.2" cy="232.0" r="4.5" fill="#fcb196"/>
<circle cx="93.5" cy="232.0" r="4.5" fill="#fcb196"/>
<circle cx="113.7" cy="215.5" r="4.5" fill="#fc9a7b"/>
<circle cx="122.6" cy="210.6" r="4.5" fill="#fb7a5a"/>
<circle cx="133.1" cy="207.6" r="4.5" fill="#cb181d"/>
<circle cx="111.6" cy="242.4" r="4.5" fill="#fcbea5"/>
<circle cx="120.6" cy="247.5" r="4.5" fill="#fcbea5"/>
<circle cx="129.6" cy="252.5" r="4.5" fill="#fcbea5"/>
<circle cx="138.7" cy="257.8" r="4.5" fill="#fcbea5"/>
<circle cx="93.5" cy="242.4" r="4.5" fill="#fcbea5"/>
<circle cx="93.5" cy="253.0" r="4.5" fill="#fcbea5"/>
<circle cx="93.5" cy="263.8" r="4.5" fill="#fcbea5"/>
<circle cx="93.5" cy="274.3" r="4.5" fill="#fcbea5"/>
<circle cx="93.5" cy="284.3" r="4.5" fill="#fcbea5"/>
<circle cx="93.5" cy="294.7" r="4.5" fill="#fcbea5"/>
<circle cx="138.4" cy="216.0" r="4.5" fill="#f34c37"/>
<text x="283.2" y="97.6" class="lab" textLength="36.5" lengthAdjust="spacingAndGlyphs">EC</text>
</g>
</svg>
</body></html>
